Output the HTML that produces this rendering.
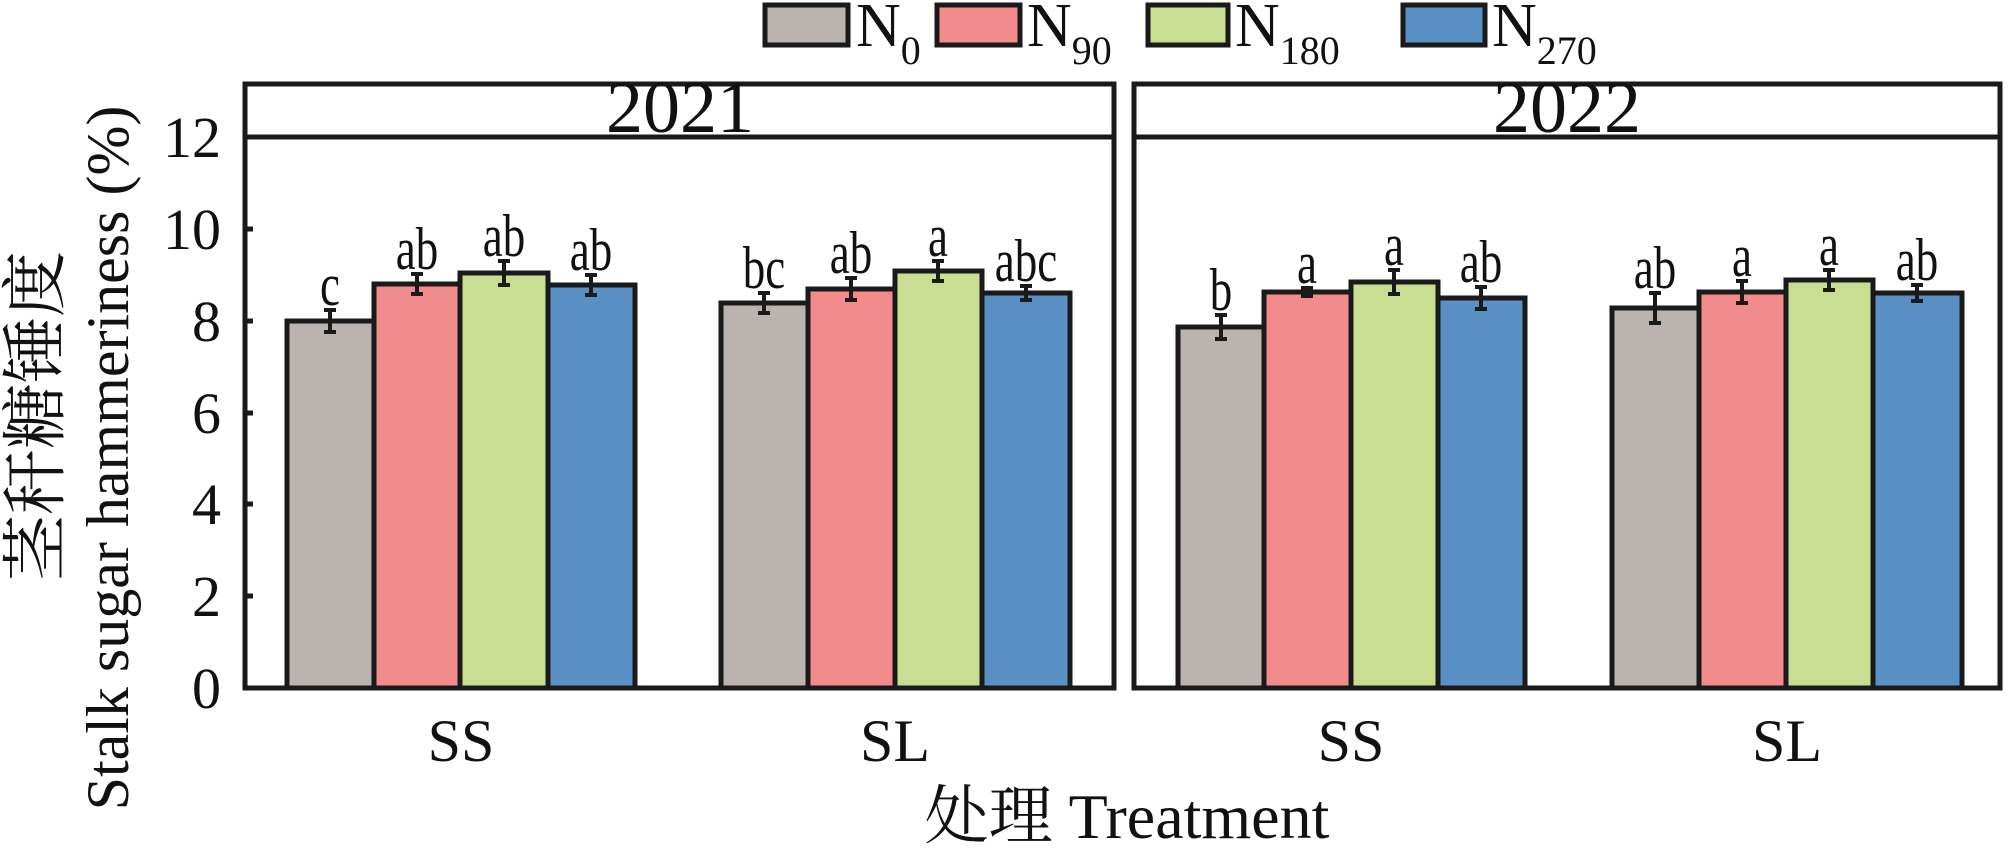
<!DOCTYPE html>
<html><head><meta charset="utf-8"><style>
html,body{margin:0;padding:0;background:#fff;}
svg{display:block;}
text{font-family:"Liberation Serif","Noto Serif CJK SC",serif;fill:#111;}
</style></head><body>
<svg width="2008" height="848" viewBox="0 0 2008 848" xmlns="http://www.w3.org/2000/svg">
<!-- legend -->
<g stroke="#1a1a1a" stroke-width="5">
<rect x="765" y="5" width="83" height="40" fill="#bbb3b0"/>
<rect x="937" y="5" width="83" height="40" fill="#f28b8c"/>
<rect x="1148" y="5" width="80" height="40" fill="#c9de92"/>
<rect x="1403" y="5" width="82" height="40" fill="#5b90c4"/>
</g>
<g font-size="62">
<text x="856" y="46">N<tspan font-size="40" dy="18">0</tspan></text>
<text x="1027" y="46">N<tspan font-size="40" dy="18">90</tspan></text>
<text x="1235" y="46">N<tspan font-size="40" dy="18">180</tspan></text>
<text x="1492" y="46">N<tspan font-size="40" dy="18">270</tspan></text>
</g>
<!-- panels -->
<g fill="none" stroke="#1a1a1a" stroke-width="5">
<rect x="245" y="84" width="869" height="604"/>
<line x1="245" y1="137" x2="1114" y2="137"/>
<rect x="1134" y="84" width="866" height="604"/>
<line x1="1134" y1="137" x2="2000" y2="137"/>
</g>
<text x="680" y="132" font-size="74" text-anchor="middle">2021</text>
<text x="1567" y="132" font-size="74" text-anchor="middle">2022</text>
<!-- y ticks -->
<g stroke="#1a1a1a" stroke-width="5">
<line x1="245" y1="596" x2="253" y2="596"/><line x1="245" y1="504" x2="253" y2="504"/>
<line x1="245" y1="413" x2="253" y2="413"/><line x1="245" y1="321" x2="253" y2="321"/>
<line x1="245" y1="229" x2="253" y2="229"/>
</g>
<g font-size="58" text-anchor="end">
<text x="221" y="708">0</text><text x="221" y="616">2</text><text x="221" y="524">4</text>
<text x="221" y="433">6</text><text x="221" y="341">8</text><text x="221" y="249">10</text><text x="221" y="157">12</text>
</g>
<text transform="translate(58,416) rotate(-90)" font-size="66" text-anchor="middle">茎秆糖锤度</text>
<text transform="translate(128,458) rotate(-90)" font-size="60" text-anchor="middle">Stalk sugar hammeriness (%)</text>
<g font-size="60" text-anchor="middle">
<text x="461" y="761">SS</text><text x="895" y="761">SL</text>
<text x="1351" y="761">SS</text><text x="1787" y="761">SL</text>
</g>
<text x="1127" y="838" font-size="64" text-anchor="middle">处理 Treatment</text>
<!-- bars -->
<g stroke="#1a1a1a" stroke-width="5">
<rect x="287" y="321" width="87" height="367" fill="#bbb3b0"/>
<rect x="374" y="284" width="86" height="404" fill="#f28b8c"/>
<rect x="460" y="273" width="88" height="415" fill="#c9de92"/>
<rect x="548" y="285" width="87" height="403" fill="#5b90c4"/>
<rect x="721" y="303" width="87" height="385" fill="#bbb3b0"/>
<rect x="808" y="289" width="87" height="399" fill="#f28b8c"/>
<rect x="895" y="271" width="87" height="417" fill="#c9de92"/>
<rect x="982" y="293" width="88" height="395" fill="#5b90c4"/>
<rect x="1178" y="327" width="86" height="361" fill="#bbb3b0"/>
<rect x="1264" y="292" width="87" height="396" fill="#f28b8c"/>
<rect x="1351" y="282" width="87" height="406" fill="#c9de92"/>
<rect x="1438" y="298" width="87" height="390" fill="#5b90c4"/>
<rect x="1612" y="308" width="87" height="380" fill="#bbb3b0"/>
<rect x="1699" y="292" width="87" height="396" fill="#f28b8c"/>
<rect x="1786" y="280" width="87" height="408" fill="#c9de92"/>
<rect x="1873" y="293" width="89" height="395" fill="#5b90c4"/>
</g>
<!-- error bars -->
<g stroke="#1a1a1a" stroke-width="4" fill="none">
<path d="M330 310v22M324 310h12M324 332h12"/>
<path d="M417 274v20M411 274h12M411 294h12"/>
<path d="M504 261v24M498 261h12M498 285h12"/>
<path d="M591 275v20M585 275h12M585 295h12"/>
<path d="M764 293v20M758 293h12M758 313h12"/>
<path d="M851 278v22M845 278h12M845 300h12"/>
<path d="M938 261v20M932 261h12M932 281h12"/>
<path d="M1026 286v14M1020 286h12M1020 300h12"/>
<path d="M1221 315v24M1215 315h12M1215 339h12"/>
<path d="M1307 288v8M1301 288h12M1301 296h12"/>
<path d="M1394 270v24M1388 270h12M1388 294h12"/>
<path d="M1481 287v22M1475 287h12M1475 309h12"/>
<path d="M1655 293v30M1649 293h12M1649 323h12"/>
<path d="M1742 281v22M1736 281h12M1736 303h12"/>
<path d="M1829 270v20M1823 270h12M1823 290h12"/>
<path d="M1917 285v16M1911 285h12M1911 301h12"/>
</g>
<!-- letters -->
<g transform="scale(0.75,1)" font-size="60" text-anchor="middle">
<text x="440" y="305">c</text><text x="556" y="269">ab</text><text x="672" y="256">ab</text><text x="788" y="270">ab</text>
<text x="1018.7" y="288">bc</text><text x="1134.7" y="273">ab</text><text x="1250.7" y="256">a</text><text x="1368" y="281">abc</text>
<text x="1628" y="310">b</text><text x="1742.7" y="283">a</text><text x="1858.7" y="265">a</text><text x="1974.7" y="282">ab</text>
<text x="2206.7" y="288">ab</text><text x="2322.7" y="276">a</text><text x="2438.7" y="265">a</text><text x="2556" y="280">ab</text>
</g>
</svg>
</body></html>
